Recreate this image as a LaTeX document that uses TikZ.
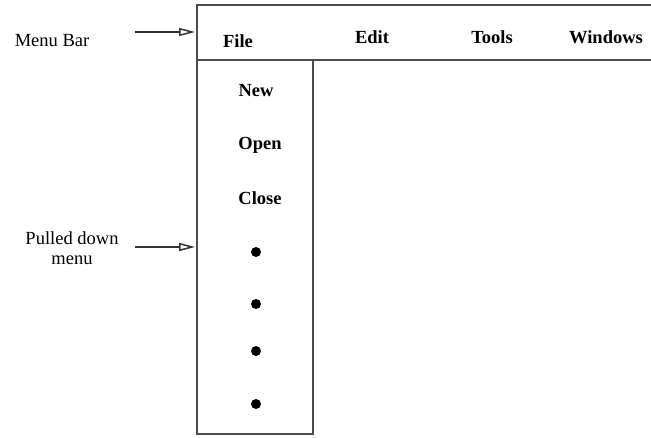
\documentclass[tikz,border=0pt]{standalone}
\usepackage{fontspec}
\setmainfont{Liberation Serif}
\usetikzlibrary{arrows.meta}
\begin{document}
\begin{tikzpicture}[x=1pt,y=-1pt,
  boxline/.style={draw=black!70, line width=1.6pt},
  lbl/.style={font=\fontsize{18.5}{20}\selectfont, inner sep=0pt},
  item/.style={font=\fontsize{18.5}{20}\selectfont\bfseries, inner sep=0pt},
  pointer/.style={draw=black!80, line width=1.5pt, -{Triangle[open, length=16pt, width=8pt]}},
  dot/.style={circle, fill=black, inner sep=0pt, minimum size=10pt}]
\useasboundingbox (0,0) rectangle (651,438);
% menu bar
\coordinate (bartl) at (197,5);
\coordinate (bartr) at (652,5);
\coordinate (barbl) at (197,60);
\coordinate (barbr) at (652,60);
\draw[boxline] (bartr) -- (bartl) -- (barbl) -- (barbr);
% pulled down menu
\coordinate (menubl) at (197,434);
\coordinate (menubr) at (313,434);
\coordinate (menutr) at (313,60);
\draw[boxline] (barbl) -- (menubl) -- (menubr) -- (menutr);
% menu bar items
\node[item] (file) at (238,41) {File};
\node[item] (edit) at (372,37) {Edit};
\node[item] (tools) at (492,37) {Tools};
\node[item] (windows) at (606,37) {Windows};
% pulled down items
\node[item] (new) at (256,91) {New};
\node[item] (open) at (260,145) {Open};
\node[item] (close) at (260,198) {Close};
\node[dot] (d1) at (256,252) {};
\node[dot] (d2) at (256,304) {};
\node[dot] (d3) at (256,351) {};
\node[dot] (d4) at (256,404) {};
% labels and pointers
\node[lbl] (menubarlbl) at (52,41) {Menu Bar};
\node[lbl, align=center] (pulledlbl) at (72,248) {Pulled down\\menu};
\coordinate (p1s) at (135,32);
\coordinate (p1e) at (195,32);
\coordinate (p2s) at (135,247);
\coordinate (p2e) at (195,247);
\draw[pointer] (p1s) -- (p1e);
\draw[pointer] (p2s) -- (p2e);
\end{tikzpicture}
\end{document}
